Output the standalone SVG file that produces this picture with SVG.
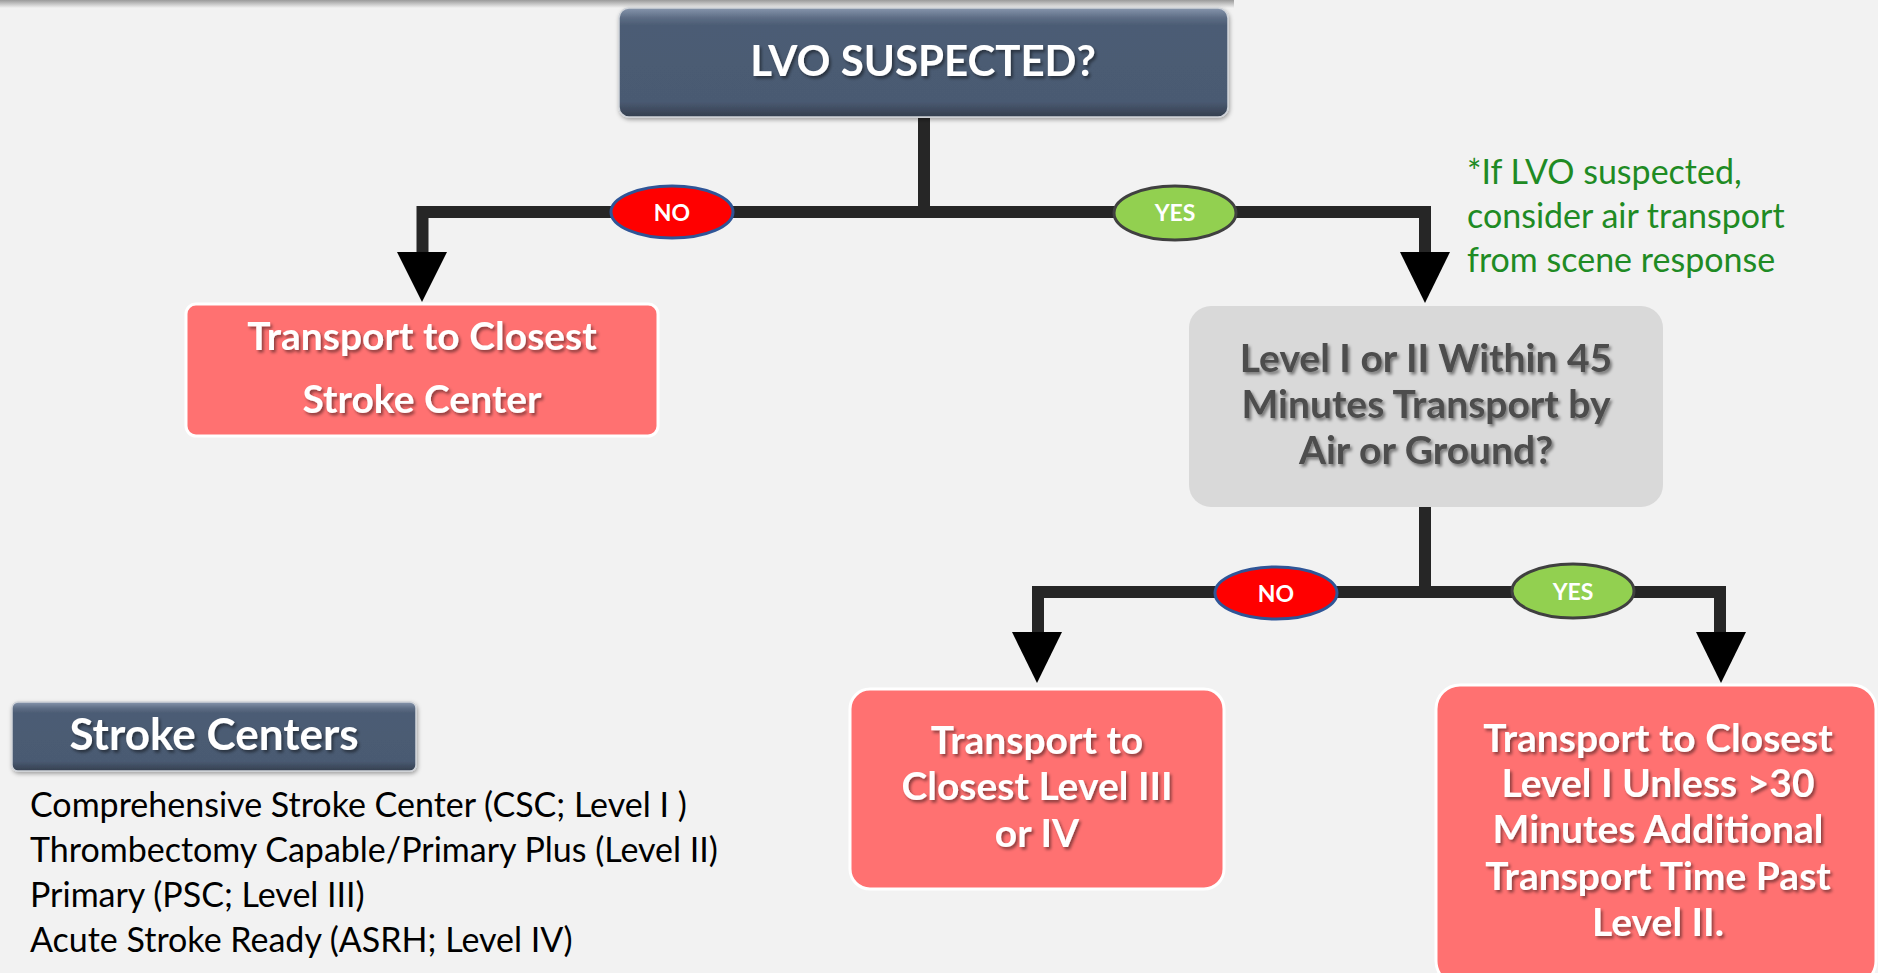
<svg xmlns="http://www.w3.org/2000/svg" width="1878" height="973" viewBox="0 0 1878 973">
<defs>
<linearGradient id="slate" x1="0" y1="0" x2="0" y2="1">
<stop offset="0" stop-color="#8796ad"/>
<stop offset="0.09" stop-color="#5d6d85"/>
<stop offset="0.16" stop-color="#4c5c74"/>
<stop offset="0.86" stop-color="#4a5a72"/>
<stop offset="1" stop-color="#343f4e"/>
</linearGradient>
<linearGradient id="topbar" x1="0" y1="0" x2="0" y2="1">
<stop offset="0" stop-color="#9a9a9a"/>
<stop offset="1" stop-color="#f2f2f2"/>
</linearGradient>
<filter id="tshadow" x="-10%" y="-30%" width="120%" height="160%">
<feDropShadow dx="2" dy="2.5" stdDeviation="1.5" flood-color="#000" flood-opacity="0.45"/>
</filter>
<filter id="bshadow" x="-5%" y="-10%" width="110%" height="125%">
<feDropShadow dx="1" dy="2" stdDeviation="2" flood-color="#000" flood-opacity="0.35"/>
</filter>
<style>
.conn{fill:none;stroke:#262626;stroke-width:12;stroke-linejoin:miter;stroke-linecap:butt}
.head{fill:#000}
.bold{font-family:Lato,"Open Sans","Liberation Sans",sans-serif;font-weight:700;text-anchor:middle}
.white{fill:#fff;filter:url(#tshadow)}
.big{font-size:44px}
.box{font-size:39px}
.lbl{font-size:23px;fill:#fff}
.reg{font-family:Lato,"Open Sans","Liberation Sans",sans-serif;font-size:34px}
.red{fill:#ff7171;stroke:#fff;stroke-width:3}
</style>
</defs>
<rect width="1878" height="973" fill="#f2f2f2"/>
<rect x="0" y="0" width="1234" height="8" fill="url(#topbar)"/>

<g id="connectors">
<path class="conn" d="M924 118 V212"/>
<path class="conn" d="M924 212 H422.5 V256"/>
<path class="conn" d="M924 212 H1425 V256"/>
<polygon class="head" points="397,252 447,252 422,302"/>
<polygon class="head" points="1400,252 1450,252 1425,303"/>
<path class="conn" d="M1425 507 V592"/>
<path class="conn" d="M1425 592 H1038 V636"/>
<path class="conn" d="M1425 592 H1720 V636"/>
<polygon class="head" points="1012,632 1062,632 1037,683"/>
<polygon class="head" points="1696,632 1746,632 1721,683"/>
</g>

<g id="label-no-1">
<ellipse cx="672" cy="212" rx="61" ry="26" fill="#ff0000" stroke="#2f5597" stroke-width="3"/>
<text class="bold lbl" x="672" y="221">NO</text>
</g>
<g id="label-yes-1">
<ellipse cx="1175" cy="213" rx="61" ry="27" fill="#92d050" stroke="#404040" stroke-width="3"/>
<text class="bold lbl" x="1175" y="221">YES</text>
</g>
<g id="label-no-2">
<ellipse cx="1276" cy="593" rx="61" ry="26" fill="#ff0000" stroke="#2f5597" stroke-width="3"/>
<text class="bold lbl" x="1276" y="602">NO</text>
</g>
<g id="label-yes-2">
<ellipse cx="1573" cy="591" rx="61" ry="27" fill="#92d050" stroke="#404040" stroke-width="3"/>
<text class="bold lbl" x="1573" y="600">YES</text>
</g>

<g id="lvo-suspected">
<rect x="619" y="8" width="609" height="109" rx="10" fill="url(#slate)" stroke="#cfd3d9" stroke-width="1.5" filter="url(#bshadow)"/>
<text class="bold white" font-size="42px" x="923" y="76">LVO SUSPECTED?</text>
</g>

<g id="closest-stroke-center">
<rect class="red" x="186" y="304" width="472" height="132" rx="10"/>
<text class="bold white box" x="422" y="350">Transport to Closest</text>
<text class="bold white box" x="422" y="413">Stroke Center</text>
</g>

<g id="air-note">
<text class="reg" font-size="35px" fill="#1f8b24" x="1467" y="184">*If LVO suspected,</text>
<text class="reg" font-size="35px" fill="#1f8b24" x="1467" y="228">consider air transport</text>
<text class="reg" font-size="35px" fill="#1f8b24" x="1467" y="272">from scene response</text>
</g>

<g id="level-45-question">
<rect x="1189" y="306" width="474" height="201" rx="22" fill="#d9d9d9"/>
<text class="bold box" fill="#4d4d4d" filter="url(#tshadow)" x="1426" y="372">Level I or II Within 45</text>
<text class="bold box" fill="#4d4d4d" filter="url(#tshadow)" x="1426" y="418">Minutes Transport by</text>
<text class="bold box" fill="#4d4d4d" filter="url(#tshadow)" x="1426" y="464">Air or Ground?</text>
</g>

<g id="closest-level-3-4">
<rect class="red" x="850" y="689" width="374" height="200" rx="20"/>
<text class="bold white box" x="1037" y="754">Transport to</text>
<text class="bold white box" x="1037" y="800">Closest Level III</text>
<text class="bold white box" x="1037" y="847">or IV</text>
</g>

<g id="closest-level-1">
<rect class="red" x="1436" y="685" width="440" height="300" rx="24"/>
<text class="bold white box" x="1658" y="752">Transport to Closest</text>
<text class="bold white box" x="1658" y="797">Level I Unless &gt;30</text>
<text class="bold white box" x="1658" y="843">Minutes Additional</text>
<text class="bold white box" x="1658" y="890">Transport Time Past</text>
<text class="bold white box" x="1658" y="936">Level II.</text>
</g>

<g id="stroke-centers-legend">
<rect x="12" y="702" width="404" height="69" rx="6" fill="url(#slate)" stroke="#cfd3d9" stroke-width="1.5" filter="url(#bshadow)"/>
<text class="bold white big" x="214" y="750">Stroke Centers</text>
<text class="reg" fill="#000" x="30" y="817">Comprehensive Stroke Center (CSC; Level I )</text>
<text class="reg" fill="#000" x="30" y="862">Thrombectomy Capable/Primary Plus (Level II)</text>
<text class="reg" fill="#000" x="30" y="907">Primary (PSC; Level III)</text>
<text class="reg" fill="#000" x="30" y="952">Acute Stroke Ready (ASRH; Level IV)</text>
</g>
</svg>
